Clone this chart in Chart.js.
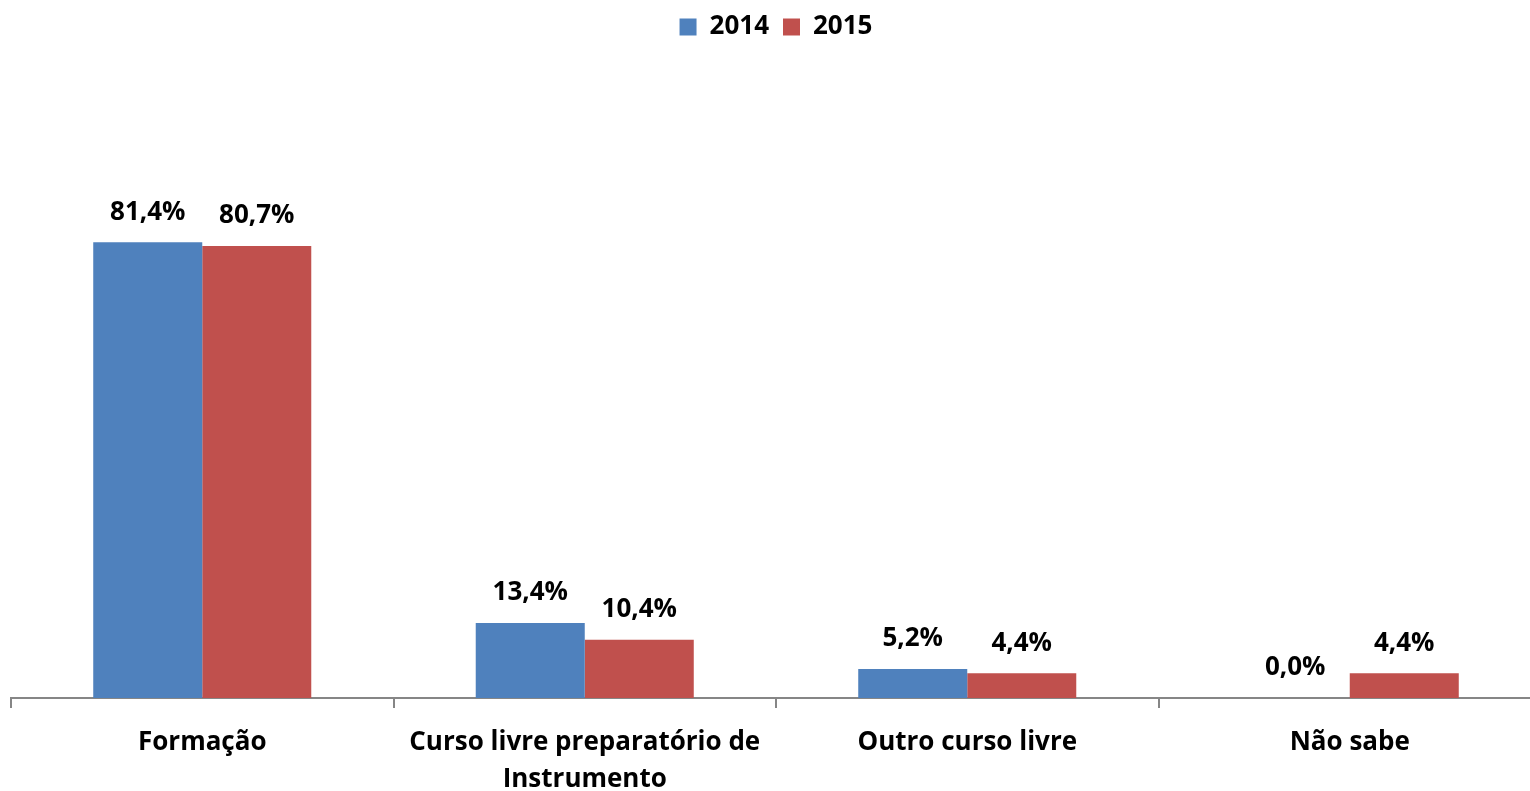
<!DOCTYPE html>
<html>
<head>
<meta charset="utf-8">
<script src="https://cdn.jsdelivr.net/npm/chart.js@4"></script>
<style>
  html, body { margin: 0; padding: 0; background: #fff; overflow: hidden; }
  #wrap { width: 1530px; height: 791px; overflow: hidden; }
</style>
</head>
<body>
<div id="wrap"><canvas id="chart" width="1541" height="791"></canvas></div>
<script>
const categories = ["Formação", ["Curso livre preparatório de", "Instrumento"], "Outro curso livre", "Não sabe"];
const years = ["2014", "2015"];
const values2014 = [81.4, 13.4, 5.2, 0.0];
const values2015 = [80.7, 10.4, 4.4, 4.4];

const FONT = "'Open Sans', Lato, sans-serif";

// valores em cima das barras
const barLabels = {
  id: "barLabels",
  afterDatasetsDraw(chart) {
    const ctx = chart.ctx;
    ctx.save();
    ctx.font = "bold 26px " + FONT;
    ctx.fillStyle = "#000";
    ctx.textAlign = "center";
    ctx.textBaseline = "middle";
    chart.data.datasets.forEach((ds, i) => {
      chart.getDatasetMeta(i).data.forEach((bar, j) => {
        const txt = ds.data[j].toFixed(1).replace(".", ",") + "%";
        ctx.fillText(txt, bar.x, bar.y - 30);
      });
    });
    ctx.restore();
  }
};

// altura fixa da legenda
const legendHeight = {
  id: "legendHeight",
  beforeInit(chart) {
    const fit = chart.legend.fit;
    chart.legend.fit = function () {
      fit.bind(chart.legend)();
      this.height = 138;
    };
  }
};

new Chart(document.getElementById("chart"), {
  type: "bar",
  data: {
    labels: categories,
    datasets: [
      { label: years[0], data: values2014, backgroundColor: "#4F81BD", borderWidth: 0 },
      { label: years[1], data: values2015, backgroundColor: "#C0504D", borderWidth: 0 }
    ]
  },
  options: {
    responsive: false,
    animation: false,
    layout: { padding: { left: 11, right: 0, top: 0, bottom: 0 } },
    categoryPercentage: 0.57,
    barPercentage: 1.0,
    plugins: {
      legend: {
        position: "top",
        labels: {
          boxWidth: 17,
          boxHeight: 17,
          padding: 14,
          color: "#000",
          font: { family: FONT, size: 26, weight: "bold" }
        }
      },
      tooltip: { enabled: false }
    },
    scales: {
      x: {
        afterFit(scale) { scale.height = 93; },
        grid: {
          offset: true,
          drawOnChartArea: false,
          drawTicks: true,
          tickLength: 10,
          color: "#868686",
          lineWidth: 2
        },
        border: { color: "#868686", width: 2 },
        ticks: {
          color: "#000",
          padding: 16,
          maxRotation: 0,
          autoSkip: false,
          font: { family: FONT, size: 26, weight: "bold", lineHeight: 1.42 }
        }
      },
      y: {
        display: false,
        min: 0,
        max: 100
      }
    }
  },
  plugins: [barLabels, legendHeight]
});
</script>
</body>
</html>
